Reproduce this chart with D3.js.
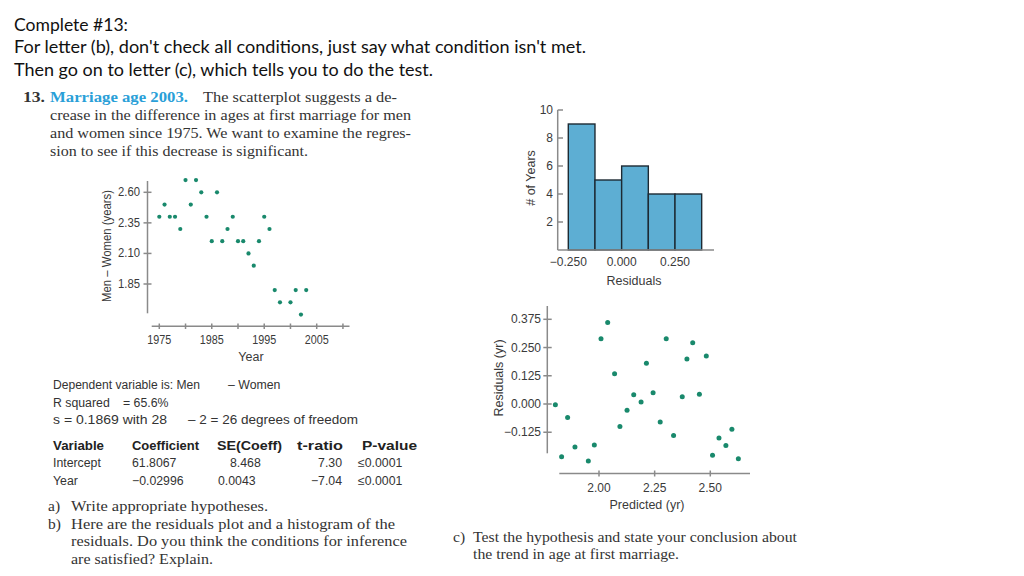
<!DOCTYPE html>
<html><head><meta charset="utf-8">
<script src="https://cdn.jsdelivr.net/npm/d3@7"></script>
<style>
body{margin:0;background:#fff;}
svg{display:block;}
</style></head>
<body>
<svg id="c" width="1024" height="576"></svg>
<script>
// ---------- DATA ----------
const years = [1975,1976,1977,1978,1979,1980,1981,1982,1983,1984,1985,1986,1987,1988,1989,1990,1991,1992,1993,1994,1995,1996,1997,1998,2000,2001,2002,2003];
const ageDiff = [2.40,2.50,2.40,2.40,2.30,2.70,2.50,2.70,2.60,2.40,2.20,2.60,2.20,2.30,2.40,2.20,2.20,2.10,2.00,2.20,2.40,2.30,1.80,1.70,1.70,1.80,1.60,1.80];
const scatterYTicks = [1.85,2.10,2.35,2.60];
const scatterXTicks = [1975,1980,1985,1990,1995,2000,2005,2010];
const scatterXLabels = [1975,1985,1995,2005];

const histBinStart = [-0.25,-0.125,0.0,0.125,0.25];
const histBinEnd   = [-0.125,0.0,0.125,0.25,0.375];
const histCounts   = [9,5,6,4,4];
const histYTicks = [2,4,6,8,10];
const histXTicks = [-0.25,0,0.25];

const predicted = [1.804,1.832,1.859,1.892,1.952,1.979,2.009,2.039,2.070,2.094,2.126,2.156,2.189,2.213,2.243,2.275,2.302,2.335,2.374,2.395,2.421,2.451,2.482,2.510,2.539,2.570,2.597,2.626];
const residuals = [-0.003,-0.233,-0.060,-0.190,-0.252,-0.181,0.289,0.361,0.134,-0.100,-0.028,0.041,0.009,0.180,0.050,-0.080,0.289,-0.140,0.032,0.199,0.271,0.043,0.212,-0.227,-0.150,-0.184,-0.112,-0.242];
const residYTicks = [-0.125,0,0.125,0.25,0.375];
const residXTicks = [2.00,2.25,2.50];

const topLines = ["Complete #13:","For letter (b), don't check all conditions, just say what condition isn't met.","Then go on to letter (c), which tells you to do the test."];
const tableHeader = ["Variable","Coefficient","SE(Coeff)","t-ratio","P-value"];
const tableRows = [["Intercept","61.8067","8.468","7.30","\u22640.0001"],["Year","\u22120.02996","0.0043","\u22127.04","\u22640.0001"]];

// ---------- DRAW ----------
const svg = d3.select("#c");
const AX = "#8a8a8a", DOT = "#19896c", LBL = "#3a3a3a";
const tickFont = "'Liberation Sans',Arial,sans-serif";
const serif = "'Liberation Serif','DejaVu Serif',serif";

// top slide text
const topY = [31,53,76], topW = [114,572,419];
topLines.forEach((t,i)=>{
  svg.append("text").attr("x",14).attr("y",topY[i]).attr("font-family","Lato,'Open Sans',sans-serif")
    .attr("font-size",17).attr("fill","#111").attr("textLength",topW[i]).attr("lengthAdjust","spacingAndGlyphs").text(t);
});

// textbook paragraph
const p = svg.append("g").attr("font-family",serif).attr("font-size",15.5).attr("fill","#333");
p.append("text").attr("x",23).attr("y",102).attr("font-weight","bold").attr("textLength",22).attr("lengthAdjust","spacingAndGlyphs").text("13.");
p.append("text").attr("x",50).attr("y",102).attr("font-weight","bold").attr("fill","#2a9fd8").attr("textLength",138).attr("lengthAdjust","spacingAndGlyphs").text("Marriage age 2003.");
p.append("text").attr("x",203).attr("y",102).attr("textLength",194).attr("lengthAdjust","spacingAndGlyphs").text("The scatterplot suggests a de-");
p.append("text").attr("x",50).attr("y",120).attr("textLength",361).attr("lengthAdjust","spacingAndGlyphs").text("crease in the difference in ages at first marriage for men");
p.append("text").attr("x",50).attr("y",138).attr("textLength",361).attr("lengthAdjust","spacingAndGlyphs").text("and women since 1975. We want to examine the regres-");
p.append("text").attr("x",50).attr("y",156).attr("textLength",258).attr("lengthAdjust","spacingAndGlyphs").text("sion to see if this decrease is significant.");

// helper for crossing ticks
function tickLine(g,x1,y1,x2,y2){g.append("line").attr("x1",x1).attr("y1",y1).attr("x2",x2).attr("y2",y2).attr("stroke",AX).attr("stroke-width",1.5);}

// ---- Scatter 1 ----
const sx = d3.scaleLinear().domain([1975,2005]).range([159.3,316.7]);
const sy = d3.scaleLinear().domain([1.85,2.60]).range([284,192.3]);
const g1 = svg.append("g");
tickLine(g1,147.5,181,147.5,313.3);
scatterYTicks.forEach(v=>{
  tickLine(g1,143.5,sy(v),151.5,sy(v));
  g1.append("text").attr("x",140).attr("y",sy(v)+4).attr("text-anchor","end").attr("font-family",tickFont).attr("font-size",12).attr("fill",LBL).attr("textLength",22).attr("lengthAdjust","spacingAndGlyphs").text(v.toFixed(2));
});
tickLine(g1,151.7,326.3,349.5,326.3);
scatterXTicks.forEach(v=>tickLine(g1,sx(v),323.5,sx(v),329));
scatterXLabels.forEach(v=>g1.append("text").attr("x",sx(v)).attr("y",344).attr("text-anchor","middle").attr("font-family",tickFont).attr("font-size",12).attr("fill",LBL).attr("textLength",24).attr("lengthAdjust","spacingAndGlyphs").text(v));
g1.append("text").attr("x",251).attr("y",361).attr("text-anchor","middle").attr("font-family",tickFont).attr("font-size",12.5).attr("fill",LBL).text("Year");
g1.append("text").attr("transform","translate(111,246) rotate(-90)").attr("text-anchor","middle").attr("font-family",tickFont).attr("font-size",13).attr("fill",LBL).attr("textLength",112).attr("lengthAdjust","spacingAndGlyphs").text("Men \u2013 Women (years)");
g1.selectAll("circle").data(years).join("circle").attr("cx",(d)=>sx(d)).attr("cy",(d,i)=>sy(ageDiff[i])).attr("r",2.1).attr("fill",DOT);

// ---- regression output ----
const rf = "'Liberation Sans',Arial,sans-serif";
const r = svg.append("g").attr("font-family",rf).attr("font-size",12.3).attr("fill","#333");
r.append("text").attr("x",53).attr("y",389).attr("textLength",147).attr("lengthAdjust","spacingAndGlyphs").text("Dependent variable is: Men");
r.append("text").attr("x",228).attr("y",389).text("\u2013 Women");
r.append("text").attr("x",53).attr("y",407).text("R squared");
r.append("text").attr("x",123).attr("y",407).text("= 65.6%");
r.append("text").attr("x",53).attr("y",424).attr("textLength",114).attr("lengthAdjust","spacingAndGlyphs").text("s = 0.1869 with 28");
r.append("text").attr("x",188).attr("y",424).attr("textLength",170).attr("lengthAdjust","spacingAndGlyphs").text("\u2013 2 = 26 degrees of freedom");
const colX = [53,132,217,297,362], colW=[51,67,65,46,55];
tableHeader.forEach((h,i)=>r.append("text").attr("x",colX[i]).attr("y",450).attr("font-weight","bold").attr("font-size",12.8).attr("fill","#222").attr("textLength",colW[i]).attr("lengthAdjust","spacingAndGlyphs").text(h));
const cellX = [[53,132,230,342,358],[53,132,218,342,358]];
const cellAnchor = ["start","start","start","end","start"];
tableRows.forEach((row,ri)=>row.forEach((c,ci)=>r.append("text").attr("x",cellX[ri][ci]).attr("y",467+ri*18).attr("text-anchor",cellAnchor[ci]).text(c)));

// ---- questions a, b, c ----
const q = svg.append("g").attr("font-family",serif).attr("font-size",15.5).attr("fill","#333");
const qLines = [
  [48,511,"a)",null],[71,511,"Write appropriate hypotheses.",197],
  [48,529,"b)",null],[71,529,"Here are the residuals plot and a histogram of the",324],
  [71,546,"residuals. Do you think the conditions for inference",336],
  [71,564,"are satisfied? Explain.",142],
  [453,542,"c)",null],[473,542,"Test the hypothesis and state your conclusion about",324],
  [473,559,"the trend in age at first marriage.",206]
];
qLines.forEach(([x,y,t,w])=>{const e=q.append("text").attr("x",x).attr("y",y).text(t); if(w) e.attr("textLength",w).attr("lengthAdjust","spacingAndGlyphs");});

// ---- Histogram ----
const hx = d3.scaleLinear().domain([-0.25,0.25]).range([568.3,675]);
const hy = d3.scaleLinear().domain([0,10]).range([250,110]);
const g2 = svg.append("g");
g2.selectAll("rect").data(histCounts).join("rect")
  .attr("x",(d,i)=>hx(histBinStart[i])).attr("width",(d,i)=>hx(histBinEnd[i])-hx(histBinStart[i]))
  .attr("y",d=>hy(d)).attr("height",d=>hy(0)-hy(d))
  .attr("fill","#5daed3").attr("stroke","#1d2a33").attr("stroke-width",1.4);
tickLine(g2,557.7,110,557.7,250);
tickLine(g2,557.7,250,714,250);
histYTicks.forEach(v=>{
  tickLine(g2,557.7,hy(v),563,hy(v));
  g2.append("text").attr("x",553).attr("y",hy(v)+4).attr("text-anchor","end").attr("font-family",tickFont).attr("font-size",12).attr("fill",LBL).text(v);
});
histXTicks.forEach(v=>g2.append("text").attr("x",hx(v)).attr("y",266).attr("text-anchor","middle").attr("font-family",tickFont).attr("font-size",12).attr("fill",LBL).text(v<0?"\u2212"+Math.abs(v).toFixed(3):v.toFixed(3)));
g2.append("text").attr("x",634).attr("y",285).attr("text-anchor","middle").attr("font-family",tickFont).attr("font-size",12.5).attr("fill",LBL).text("Residuals");
g2.append("text").attr("transform","translate(535,178) rotate(-90)").attr("text-anchor","middle").attr("font-family",tickFont).attr("font-size",12.5).attr("fill",LBL).text("# of Years");

// ---- Residual plot ----
const rx = d3.scaleLinear().domain([2.00,2.50]).range([599,710.3]);
const ry = d3.scaleLinear().domain([0,0.375]).range([404,319.3]);
const g3 = svg.append("g");
tickLine(g3,547.3,306,547.3,453.3);
residYTicks.forEach(v=>{
  tickLine(g3,543.3,ry(v),551.7,ry(v));
  g3.append("text").attr("x",541).attr("y",ry(v)+4).attr("text-anchor","end").attr("font-family",tickFont).attr("font-size",12).attr("fill",LBL).text(v<0?"\u2212"+Math.abs(v).toFixed(3):v.toFixed(3));
});
tickLine(g3,559.3,473.5,750,473.5);
residXTicks.forEach(v=>{
  tickLine(g3,rx(v),470.5,rx(v),476.5);
  g3.append("text").attr("x",rx(v)).attr("y",492).attr("text-anchor","middle").attr("font-family",tickFont).attr("font-size",12).attr("fill",LBL).text(v.toFixed(2));
});
g3.append("text").attr("x",647).attr("y",509).attr("text-anchor","middle").attr("font-family",tickFont).attr("font-size",12.5).attr("fill",LBL).text("Predicted (yr)");
g3.append("text").attr("transform","translate(503,378) rotate(-90)").attr("text-anchor","middle").attr("font-family",tickFont).attr("font-size",12.5).attr("fill",LBL).text("Residuals (yr)");
g3.selectAll("circle").data(predicted).join("circle").attr("cx",d=>rx(d)).attr("cy",(d,i)=>ry(residuals[i])).attr("r",2.5).attr("fill",DOT);
</script>
</body></html>
